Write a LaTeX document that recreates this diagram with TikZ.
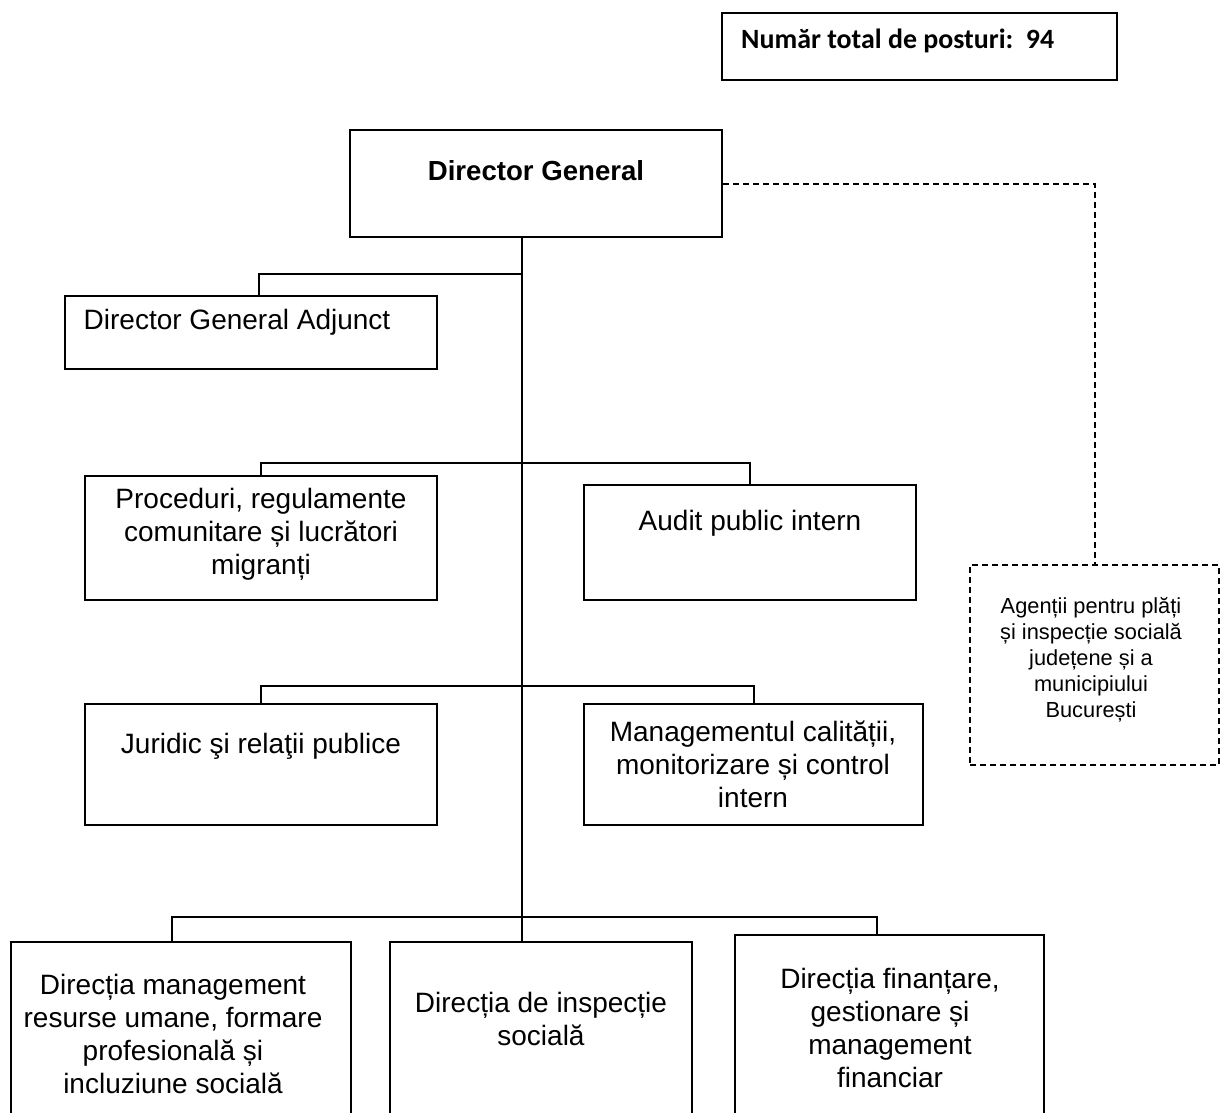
\documentclass[tikz,border=0pt]{standalone}
\usepackage{fontspec}
\setmainfont{Liberation Sans}
\newfontfamily\calibri{Carlito}
\usetikzlibrary{positioning}

\tikzset{
  box/.style={draw=black, line width=2pt, inner sep=0pt},
  lbl/.style={align=center, inner sep=0pt, font=\fontsize{28}{33}\selectfont},
  link/.style={line width=2pt},
  dlink/.style={line width=2pt, dash pattern=on 6pt off 4pt},
}

\begin{document}
\begin{tikzpicture}[x=1pt,y=-1pt]
        \useasboundingbox (0,0) rectangle (1221,1113);

        % total
        \node[box, minimum width=395pt, minimum height=67pt] (tot) at (919.5,46.5) {};
        \node[anchor=west, inner sep=0pt, font=\calibri\bfseries\fontsize{27.9}{33}\selectfont] (totT) at (741,41) {Număr total de posturi:\ \ 94};

        % boxes
        \node[box, minimum width=372pt, minimum height=107pt] (dg) at (536,183.5) {};
        \node[box, minimum width=372pt, minimum height=73pt] (dga) at (251,332.5) {};
        \node[box, minimum width=352pt, minimum height=124pt] (proc) at (261,538) {};
        \node[box, minimum width=332pt, minimum height=115pt] (audit) at (750,542.5) {};
        \node[box, minimum width=352pt, minimum height=121pt] (jur) at (261,764.5) {};
        \node[box, minimum width=339pt, minimum height=121pt] (mgmt) at (753.5,764.5) {};
        \node[box, dlink, minimum width=249pt, minimum height=200pt] (age) at (1094.5,665) {};
        \node[box, minimum width=340pt, minimum height=188pt] (drum) at (181,1036) {};
        \node[box, minimum width=302pt, minimum height=188pt] (insp) at (541,1036) {};
        \node[box, minimum width=309pt, minimum height=195pt] (fin) at (889.5,1032.5) {};

        % texts
        \node[lbl, font=\bfseries\fontsize{27.6}{33}\selectfont] (dgT) at (536,171) {Director General};
        \node[lbl] (dgaT) at (237,322) {Director General Adjunct};
        \node[lbl] (procT) at (261,534) {Proceduri, regulamente\\comunitare și lucrători\\migranți};
        \node[lbl] (auditT) at (750,523) {Audit public intern};
        \node[lbl] (jurT) at (261,746) {Juridic şi relaţii publice};
        \node[lbl] (mgmtT) at (753,764) {Managementul calității,\\monitorizare și control\\intern};
        \node[lbl, font=\fontsize{21.8}{26}\selectfont] (ageT) at (1091,660) {Agenții pentru plăți\\și inspecție socială\\județene și a\\municipiului\\București};
        \node[lbl] (drumT) at (173,1034) {Direcția management\\resurse umane, formare\\profesională și\\incluziune socială};
        \node[lbl] (inspT) at (541,1019) {Direcția de inspecție\\socială};
        \node[lbl] (finT) at (890,1028) {Direcția finanțare,\\gestionare și\\management\\financiar};

        % junctions
        \coordinate (j0) at (522,274);
        \coordinate (j1) at (522,463);
        \coordinate (j2) at (522,686);
        \coordinate (j3) at (522,917);

        \draw[link] (j3 |- dg.south) -- (j3);
        \draw[link] (j0) -| ([xshift=8pt]dga.north);
        \draw[link] (j1) -| (proc.north);
        \draw[link] (j1) -| (audit.north);
        \draw[link] (j2) -| (jur.north);
        \draw[link] (j2) -| (mgmt.north);
        \draw[link] (j3) -| ([xshift=-9pt]drum.north);
        \draw[link] (j3) -- (j3 |- insp.north);
        \draw[link] (j3) -| ([xshift=-12.5pt]fin.north);
        \draw[dlink] (dg.east) -| (age.north);
\end{tikzpicture}
\end{document}
